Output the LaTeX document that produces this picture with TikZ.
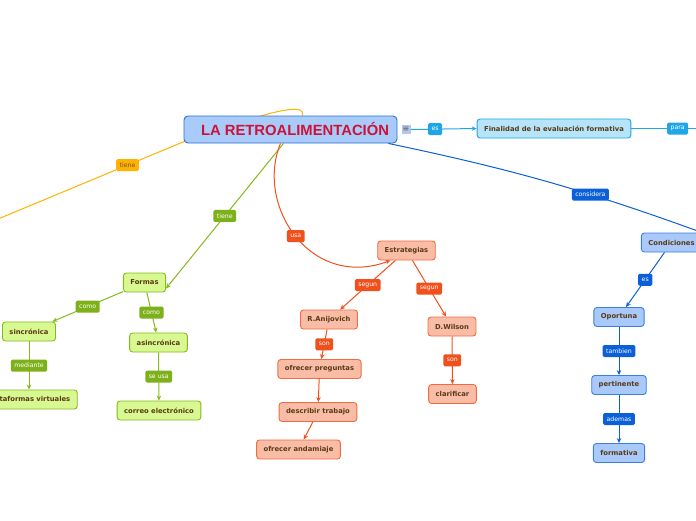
\documentclass[tikz,border=0pt]{standalone}
\usepackage{fontspec}
\setmainfont{DejaVu Sans}
\newfontfamily\titlefont{Liberation Sans}
\usepackage{tikz}
\usetikzlibrary{arrows.meta}
\usetikzlibrary{backgrounds}
\usetikzlibrary{positioning}

\definecolor{nodeText}{HTML}{5A3A14}
\definecolor{titleRed}{HTML}{CC1236}
\definecolor{rootFill}{HTML}{A9CBFA}
\definecolor{rootLine}{HTML}{2C6FD6}
\definecolor{cyanFill}{HTML}{B6E4FB}
\definecolor{cyanLine}{HTML}{1EA6E6}
\definecolor{blueFill}{HTML}{A9C9FA}
\definecolor{blueLine}{HTML}{0B5FD8}
\definecolor{greenFill}{HTML}{D8F891}
\definecolor{greenLine}{HTML}{84BA1B}
\definecolor{redFill}{HTML}{F9BDA7}
\definecolor{redLine}{HTML}{F0501C}
\definecolor{yellowLine}{HTML}{FFB300}
\definecolor{noteFill}{HTML}{B4C8EE}

\tikzset{
  topic/.style={draw, rounded corners=3pt, line width=0.9pt, minimum height=19pt,
    inner xsep=7pt, inner ysep=2pt, text=nodeText,
    font=\fontsize{6.8}{7.5}\selectfont\bfseries},
  bluebox/.style={topic, fill=blueFill, draw=blueLine!80!white},
  cyanbox/.style={topic, fill=cyanFill, draw=cyanLine},
  greenbox/.style={topic, fill=greenFill, draw=greenLine},
  redbox/.style={topic, fill=redFill, draw=redLine!85!white},
  tag/.style={fill=#1, rounded corners=1.5pt, inner xsep=3.5pt, inner ysep=0pt,
    minimum height=12pt, text=white, font=\fontsize{6.2}{6.5}\selectfont},
  tip/.style={-{Stealth[length=5pt,width=4.5pt]}}
}

\begin{document}
\begin{tikzpicture}[x=1pt,y=-1pt]
  \useasboundingbox (0,0) rectangle (696,520);

  % central idea
  \node[draw=rootLine, fill=rootFill, rounded corners=4pt, line width=0.9pt,
        minimum width=213pt, minimum height=27pt, text=titleRed,
        font=\titlefont\fontsize{14.8}{16}\selectfont\bfseries]
        (retro) at (290.5,129.5) {\hspace*{9pt}LA RETROALIMENTACIÓN};
  \node[fill=noteFill, minimum size=9pt, inner sep=0pt, text=black!65,
        font=\fontsize{8}{8}\selectfont] (nota) at (406,129.5) {≡};

  \node[cyanbox] (finalidad) at (554,128.5) {Finalidad de la evaluación formativa};
  \coordinate (paraFin) at (724,128.5);

  % condiciones
  \node[bluebox] (condic) at (671.5,242.5) {Condiciones};
  \node[bluebox] (oportuna) at (619,317) {Oportuna};
  \node[bluebox] (pertin) at (619,385) {pertinente};
  \node[bluebox] (format) at (619,453) {formativa};

  % formas
  \node[greenbox] (formas) at (144.5,282.5) {Formas};
  \node[greenbox] (sincr) at (29,331.5) {sincrónica};
  \node[greenbox] (asincr) at (158.5,342.5) {asincrónica};
  \node[greenbox] (plataf) at (29,399.5) {plataformas virtuales};
  \node[greenbox] (correo) at (159,410.5) {correo electrónico};

  % estrategias
  \node[redbox] (estrat) at (406.5,250.5) {Estrategias};
  \node[redbox] (anij) at (329,319.5) {R.Anijovich};
  \node[redbox] (wilson) at (452,326.5) {D.Wilson};
  \node[redbox] (pregun) at (319.5,369) {ofrecer preguntas};
  \node[redbox] (describ) at (318,412) {describir trabajo};
  \node[redbox] (andam) at (298.5,449.5) {ofrecer andamiaje};
  \node[redbox] (clarif) at (452.5,394) {clarificar};

  \coordinate (tieneFin) at (-2,219);

  % yellow branch runs behind the title
  \begin{scope}[on background layer]
    \draw[yellowLine, line width=1pt] ([xshift=12pt]retro.north)
      .. controls (305,104) and (282,106) .. (183,142)
      -- node[tag=yellowLine, pos=0.3, text=nodeText!80!yellowLine]{tiene} (tieneFin);
  \end{scope}

  \begin{scope}[every edge/.style={draw=cyanLine, line width=1pt},
                every node/.style={tag=cyanLine}]
    \path (nota.east) edge[tip] node[pos=0.37]{es} (finalidad.west);
    \path (finalidad.east) edge node{para} (paraFin);
  \end{scope}

  \begin{scope}[every edge/.style={draw=blueLine, line width=1pt, tip},
                every node/.style={tag=blueLine}]
    \path ([xshift=-9pt]retro.south east) edge[bend left=4] node[pos=0.65]{considera} (condic.north east);
    \path (condic) edge node{es} (oportuna);
    \path (oportuna) edge node{tambien} (pertin);
    \path (pertin) edge node{ademas} (format);
  \end{scope}

  \begin{scope}[every edge/.style={draw=greenLine, line width=1pt, tip},
                every node/.style={tag=greenLine!95!black}]
    \path ([xshift=-7pt]retro.south) edge node{tiene} ([yshift=-6pt]formas.east);
    \path (formas) edge node{como} (sincr);
    \path (formas) edge node{como} (asincr);
    \path (sincr) edge node{mediante} (plataf);
    \path (asincr) edge node{se usa} (correo);
  \end{scope}

  \begin{scope}[every edge/.style={draw=redLine, line width=1pt, tip},
                every node/.style={tag=redLine}]
    \draw[redLine, line width=1pt, tip] ([xshift=-10pt]retro.south)
      .. controls (255,205) and (310,290) .. node[pos=0.5]{usa} ([xshift=-16pt]estrat.south);
    \path (estrat) edge node{segun} (anij);
    \path (estrat) edge node{segun} (wilson);
    \path (anij) edge node{son} (pregun);
    \path (pregun) edge (describ);
    \path (describ) edge (andam);
    \path (wilson) edge node{son} (clarif);
  \end{scope}
\end{tikzpicture}
\end{document}
